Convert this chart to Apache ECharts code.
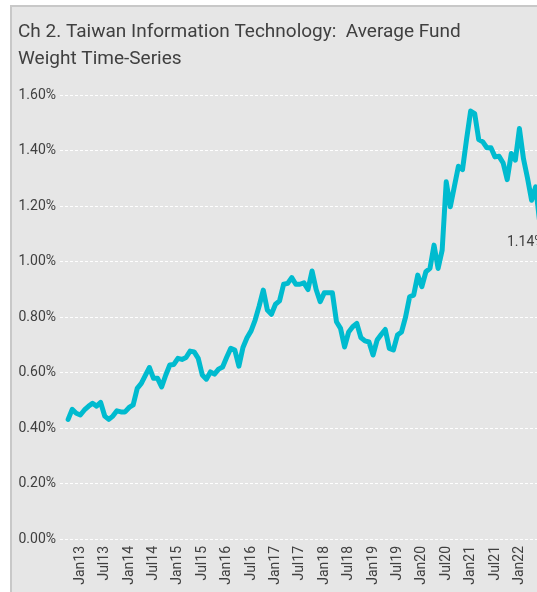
<!DOCTYPE html>
<html lang="en">
<head>
    <meta charset="utf-8">
    <title>Taiwan Information Technology: Average Fund Weight</title>
    <script src="https://cdn.jsdelivr.net/npm/echarts@6/dist/echarts.min.js"></script>
    <style>
        html, body {
            margin: 0;
            padding: 0;
            background: #ffffff;
            overflow: hidden;
        }
        .panel {
            position: absolute;
            left: 10px;
            top: 5px;
            width: 620px;
            height: 620px;
            background: #e6e6e6;
            border: 2px solid #c8c8c8;
        }
        #main {
            position: absolute;
            left: 0;
            top: 0;
            width: 537px;
            height: 592px;
        }
    </style>
</head>
<body>
<div class="panel"></div>
<div id="main"></div>
<script type="text/javascript">
    // average fund weight (%), monthly, Oct 2012 .. Jun 2022
    var w2012 = [0.431, 0.467, 0.453];
    var w2013 = [0.447, 0.465, 0.478, 0.489, 0.479, 0.492, 0.443, 0.431, 0.443, 0.462, 0.458, 0.458];
    var w2014 = [0.474, 0.483, 0.543, 0.561, 0.590, 0.618, 0.579, 0.579, 0.548, 0.590, 0.627, 0.629];
    var w2015 = [0.651, 0.647, 0.654, 0.677, 0.674, 0.651, 0.591, 0.576, 0.602, 0.594, 0.612, 0.620];
    var w2016 = [0.655, 0.687, 0.681, 0.623, 0.690, 0.725, 0.750, 0.789, 0.840, 0.897, 0.825, 0.810];
    var w2017 = [0.846, 0.858, 0.918, 0.921, 0.942, 0.918, 0.918, 0.923, 0.899, 0.966, 0.899, 0.855];
    var w2018 = [0.887, 0.887, 0.887, 0.783, 0.759, 0.692, 0.746, 0.765, 0.777, 0.726, 0.714, 0.710];
    var w2019 = [0.663, 0.717, 0.737, 0.755, 0.687, 0.681, 0.735, 0.746, 0.800, 0.873, 0.879, 0.951];
    var w2020 = [0.909, 0.963, 0.975, 1.059, 0.975, 1.041, 1.287, 1.197, 1.270, 1.343, 1.331, 1.440];
    var w2021 = [1.542, 1.533, 1.439, 1.431, 1.410, 1.410, 1.377, 1.379, 1.355, 1.295, 1.389, 1.365];
    var w2022 = [1.479, 1.370, 1.300, 1.221, 1.269, 1.140];

    var monthNames = ['Jan', 'Feb', 'Mar', 'Apr', 'May', 'Jun', 'Jul', 'Aug', 'Sep', 'Oct', 'Nov', 'Dec'];
    var tickLabels = ['Jan13', 'Jul13', 'Jan14', 'Jul14', 'Jan15', 'Jul15', 'Jan16', 'Jul16', 'Jan17', 'Jul17',
        'Jan18', 'Jul18', 'Jan19', 'Jul19', 'Jan20', 'Jul20', 'Jan21', 'Jul21', 'Jan22'];
    var yTicks = [0, 0.2, 0.4, 0.6, 0.8, 1.0, 1.2, 1.4, 1.6];

    var weights = [].concat(w2012, w2013, w2014, w2015, w2016, w2017, w2018, w2019, w2020, w2021, w2022);

    // axis runs Aug12 .. Oct22, data only Oct12 .. Jun22
    var padBefore = 2, padAfter = 4;
    var categories = [];
    var total = padBefore + weights.length + padAfter;
    for (var i = 0; i < total; i++) {
        var m = (7 + i) % 12;
        var y = 12 + Math.floor((7 + i) / 12);
        categories.push(monthNames[m] + y);
    }

    var seriesData = [];
    for (var j = 0; j < padBefore; j++) seriesData.push(null);
    weights.forEach(function (v) { seriesData.push(v); });
    for (var k = 0; k < padAfter; k++) seriesData.push(null);

    var lastIdx = padBefore + weights.length - 1;
    var lastVal = weights[weights.length - 1];

    var chart = echarts.init(document.getElementById('main'), null, {renderer: 'canvas'});

    var option = {
        backgroundColor: 'transparent',
        animation: false,
        title: {
            text: 'Ch 2. Taiwan Information Technology:  Average Fund\nWeight Time-Series',
            left: 18,
            top: 19,
            padding: 0,
            textStyle: {
                color: '#404040',
                fontFamily: 'Roboto',
                fontWeight: 'normal',
                fontSize: 19,
                lineHeight: 27
            }
        },
        grid: {
            left: 60,
            right: -19,
            top: 95,
            bottom: 53,
            containLabel: false,
            outerBoundsMode: 'none'
        },
        xAxis: {
            type: 'category',
            data: categories,
            boundaryGap: false,
            axisLine: {show: false},
            axisTick: {show: false},
            splitLine: {show: false},
            axisLabel: {
                rotate: 90,
                margin: 7,
                color: '#404040',
                fontSize: 14,
                fontFamily: 'Roboto',
                interval: function (index, value) {
                    return tickLabels.indexOf(value) !== -1;
                }
            }
        },
        yAxis: {
            type: 'value',
            min: yTicks[0],
            max: yTicks[yTicks.length - 1],
            interval: 0.2,
            axisLine: {show: false},
            axisTick: {show: false},
            axisLabel: {
                margin: 4,
                color: '#404040',
                fontSize: 14,
                fontFamily: 'Roboto',
                formatter: function (v) { return v.toFixed(2) + '%'; }
            },
            splitLine: {
                show: true,
                lineStyle: {
                    color: '#ffffff',
                    width: 1,
                    type: [3, 2]
                }
            }
        },
        series: [{
            type: 'line',
            data: seriesData,
            showSymbol: false,
            symbol: 'none',
            connectNulls: false,
            lineStyle: {
                color: '#00bbcf',
                width: 5,
                join: 'round',
                cap: 'round'
            },
            itemStyle: {color: '#00bbcf'},
            markPoint: {
                symbol: 'circle',
                symbolSize: 1,
                itemStyle: {color: 'rgba(0,0,0,0)'},
                label: {
                    show: true,
                    position: 'bottom',
                    distance: 12,
                    offset: [-14, 0],
                    color: '#404040',
                    fontSize: 14,
                    fontFamily: 'Roboto',
                    formatter: function (p) { return p.value.toFixed(2) + '%'; }
                },
                data: [{coord: [categories[lastIdx], lastVal], value: lastVal}]
            }
        }]
    };

    chart.setOption(option);
</script>
</body>
</html>
